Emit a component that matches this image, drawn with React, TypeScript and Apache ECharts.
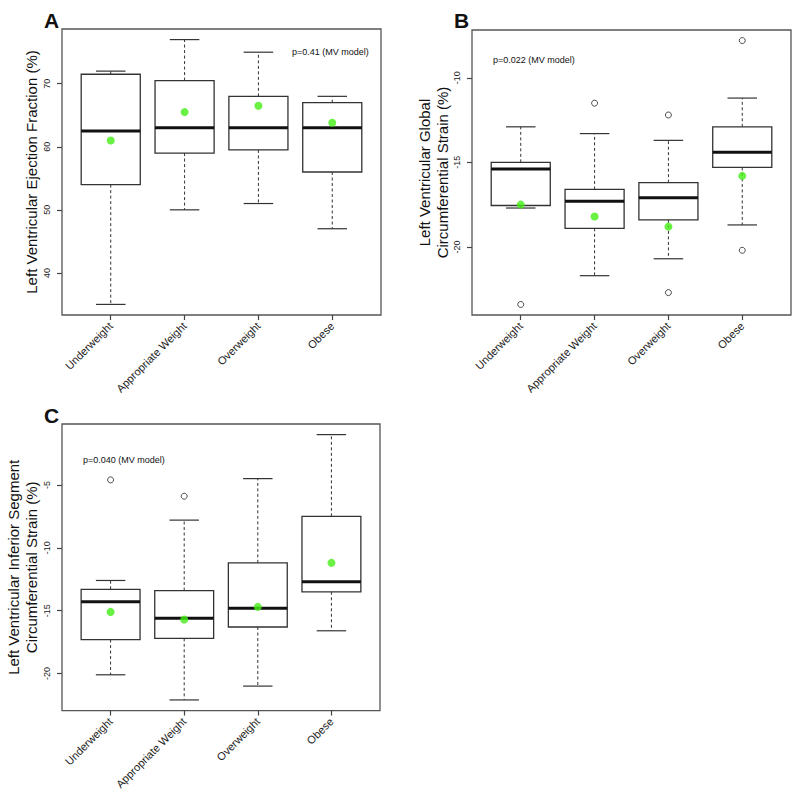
import React, { useEffect, useRef } from "react";
import * as echarts from "echarts";

const FONT = '"Liberation Sans", Arial, Helvetica, sans-serif';

const categories = ["Underweight", "Appropriate Weight", "Overweight", "Obese"];

// Each box: [lower whisker, Q1, median, Q3, upper whisker]
const efBoxes = [
  [35, 54, 62.5, 71.5, 72],
  [50, 59, 63, 70.5, 77],
  [51, 59.5, 63, 68, 75],
  [47, 56, 63, 67, 68],
];
const efMeans = [61, 65.5, 66.5, 63.8];
const efOutliers: number[][] = [];
const efTicks = [40, 50, 60, 70];

const gcsBoxes = [
  [-17.7, -17.55, -15.4, -15, -12.9],
  [-21.7, -18.9, -17.3, -16.6, -13.3],
  [-20.7, -18.4, -17.1, -16.2, -13.7],
  [-18.7, -15.3, -14.4, -12.9, -11.2],
];
const gcsMeans = [-17.5, -18.2, -18.8, -15.8];
// [category position (1-based), value]
const gcsOutliers = [
  [1, -23.4],
  [2, -11.5],
  [3, -12.2],
  [3, -22.7],
  [4, -7.8],
  [4, -20.2],
];
const gcsTicks = [-20, -15, -10];

const iscsBoxes = [
  [-20.1, -17.3, -14.3, -13.3, -12.6],
  [-22.1, -17.2, -15.6, -13.4, -7.8],
  [-21, -16.3, -14.8, -11.2, -4.5],
  [-16.6, -13.5, -12.7, -7.5, -1.0],
];
const iscsMeans = [-15.1, -15.7, -14.7, -11.2];
const iscsOutliers = [
  [1, -4.6],
  [2, -5.9],
];
const iscsTicks = [-20, -15, -10, -5];

const panelTitles = [
  "Left Ventricular Ejection Fraction (%)",
  "Left Ventricular Global\nCircumferential Strain (%)",
  "Left Ventricular Inferior Segment\nCircumferential Strain (%)",
];
const pTexts = ["p=0.41 (MV model)", "p=0.022 (MV model)", "p=0.040 (MV model)"];
const panelLetters = ["A", "B", "C"];

const BOX_WIDTH = 0.8;
const positions = [1, 2, 3, 4];

function rRange(boxes: number[][], outliers: number[][]) {
  const vals: number[] = [];
  boxes.forEach((b) => vals.push(...b));
  outliers.forEach((o) => vals.push(o[1]));
  const lo = Math.min(...vals);
  const hi = Math.max(...vals);
  const pad = (hi - lo) * 0.04;
  return [lo - pad, hi + pad];
}

function boxSeries(boxes: number[][], idx: number) {
  return {
    type: "custom",
    xAxisIndex: idx,
    yAxisIndex: idx,
    z: 2,
    clip: false,
    data: boxes.map((b, i) => [positions[i], ...b]),
    encode: { x: 0, y: [1, 2, 3, 4, 5] },
    renderItem: (params: any, api: any) => {
      const x = api.value(0);
      const lo = api.coord([x, api.value(1)]);
      const q1 = api.coord([x, api.value(2)]);
      const med = api.coord([x, api.value(3)]);
      const q3 = api.coord([x, api.value(4)]);
      const hi = api.coord([x, api.value(5)]);
      const w = api.size([BOX_WIDTH, 0])[0];
      const cx = lo[0];
      const half = w / 2;
      const cap = w / 4;
      const dash = { stroke: "#333", lineWidth: 1, lineDash: [3, 2.5] };
      const solid = { stroke: "#333", lineWidth: 1.2 };
      return {
        type: "group",
        children: [
          { type: "line", shape: { x1: cx, y1: q3[1], x2: cx, y2: hi[1] }, style: dash },
          { type: "line", shape: { x1: cx, y1: q1[1], x2: cx, y2: lo[1] }, style: dash },
          { type: "line", shape: { x1: cx - cap, y1: hi[1], x2: cx + cap, y2: hi[1] }, style: solid },
          { type: "line", shape: { x1: cx - cap, y1: lo[1], x2: cx + cap, y2: lo[1] }, style: solid },
          {
            type: "rect",
            shape: { x: cx - half, y: q3[1], width: w, height: q1[1] - q3[1] },
            style: { fill: "#fff", stroke: "#333", lineWidth: 1.3 },
          },
          {
            type: "line",
            shape: { x1: cx - half, y1: med[1], x2: cx + half, y2: med[1] },
            style: { stroke: "#111", lineWidth: 3 },
          },
        ],
      };
    },
  };
}

function outlierSeries(outliers: number[][], idx: number) {
  return {
    type: "scatter",
    xAxisIndex: idx,
    yAxisIndex: idx,
    z: 3,
    symbol: "circle",
    symbolSize: 6,
    itemStyle: { color: "#fff", borderColor: "#222", borderWidth: 1 },
    data: outliers,
  };
}

function meanSeries(means: number[], idx: number) {
  return {
    type: "scatter",
    xAxisIndex: idx,
    yAxisIndex: idx,
    z: 4,
    symbol: "circle",
    symbolSize: 8,
    itemStyle: { color: "#44ee14" },
    data: means.map((m, i) => [positions[i], m]),
  };
}

function xAxis(idx: number) {
  return {
    type: "value",
    gridIndex: idx,
    min: 0.34,
    max: 4.66,
    axisLine: { show: false },
    splitLine: { show: false },
    axisTick: {
      show: true,
      customValues: positions,
      length: 5,
      lineStyle: { color: "#444", width: 1.2 },
    },
    axisLabel: {
      customValues: positions,
      formatter: (v: number) => categories[Math.round(v) - 1] ?? "",
      rotate: 45,
      margin: 9,
      fontSize: 11,
      fontFamily: FONT,
      color: "#222",
    },
  };
}

function yAxis(idx: number, range: number[], ticks: number[], name: string, gap: number) {
  return {
    type: "value",
    gridIndex: idx,
    min: range[0],
    max: range[1],
    name,
    nameLocation: "middle",
    nameRotate: 90,
    nameGap: gap,
    nameTextStyle: { fontSize: 15, fontFamily: FONT, color: "#111", lineHeight: 18 },
    axisLine: { show: false },
    splitLine: { show: false },
    axisTick: {
      show: true,
      customValues: ticks,
      length: 5,
      lineStyle: { color: "#444", width: 1.2 },
    },
    axisLabel: {
      customValues: ticks,
      rotate: 90,
      margin: 11,
      verticalAlign: "bottom",
      align: "center",
      fontSize: 9,
      fontFamily: FONT,
      color: "#222",
    },
  };
}

export default function App() {
  const ref = useRef<HTMLDivElement>(null);
  useEffect(() => {
    if (!ref.current) return;
    const chart = echarts.init(ref.current, null, { renderer: "svg" });
    const grids = [
      { left: 62, top: 29, width: 319, height: 286 },
      { left: 472, top: 30, width: 319, height: 285 },
      { left: 62, top: 424, width: 318, height: 287 },
    ].map((g) => ({ ...g, show: true, borderColor: "#555", borderWidth: 1.3, backgroundColor: "transparent" }));

    const option = {
      animation: false,
      backgroundColor: "#fff",
      grid: grids,
      xAxis: [xAxis(0), xAxis(1), xAxis(2)],
      yAxis: [
        yAxis(0, rRange(efBoxes, efOutliers), efTicks, panelTitles[0], 22),
        yAxis(1, rRange(gcsBoxes, gcsOutliers), gcsTicks, panelTitles[1], 21),
        yAxis(2, rRange(iscsBoxes, iscsOutliers), iscsTicks, panelTitles[2], 22),
      ],
      series: [
        boxSeries(efBoxes, 0),
        outlierSeries(efOutliers, 0),
        meanSeries(efMeans, 0),
        boxSeries(gcsBoxes, 1),
        outlierSeries(gcsOutliers, 1),
        meanSeries(gcsMeans, 1),
        boxSeries(iscsBoxes, 2),
        outlierSeries(iscsOutliers, 2),
        meanSeries(iscsMeans, 2),
      ],
      graphic: [
        { type: "text", left: 44, top: 10, style: { text: panelLetters[0], font: `bold 21px ${FONT}`, fill: "#111" } },
        { type: "text", left: 454, top: 10, style: { text: panelLetters[1], font: `bold 21px ${FONT}`, fill: "#111" } },
        { type: "text", left: 44, top: 405, style: { text: panelLetters[2], font: `bold 21px ${FONT}`, fill: "#111" } },
        { type: "text", left: 292, top: 47, style: { text: pTexts[0], font: `9px ${FONT}`, fill: "#111" } },
        { type: "text", left: 493, top: 55, style: { text: pTexts[1], font: `9px ${FONT}`, fill: "#111" } },
        { type: "text", left: 83, top: 455, style: { text: pTexts[2], font: `9px ${FONT}`, fill: "#111" } },
      ],
    };
    chart.setOption(option as any);
    return () => chart.dispose();
  }, []);
  return (
    <div
      ref={ref}
      style={{ position: "fixed", left: 0, top: 0, width: 800, height: 792, background: "#fff" }}
    />
  );
}
